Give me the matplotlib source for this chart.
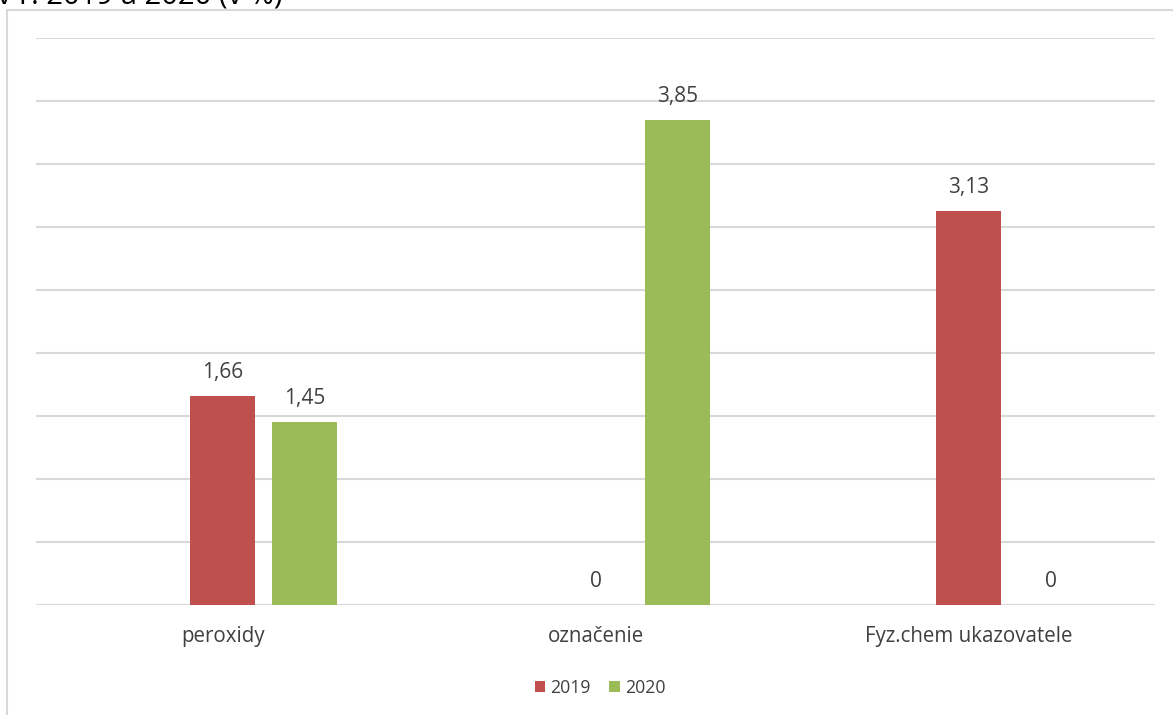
import matplotlib.pyplot as plt
from matplotlib.patches import Rectangle
import numpy as np

# данные графика
categories = ['peroxidy', 'označenie', 'Fyz.chem ukazovatele']
years = ['2019', '2020']
values_2019 = [1.66, 0, 3.13]
values_2020 = [1.45, 3.85, 0]
labels_2019 = ['1,66', '0', '3,13']
labels_2020 = ['1,45', '3,85', '0']
title_text = 'v r. 2019 a 2020 (v %)'

red = '#C0504D'
green = '#9BBB59'
text_color = '#404040'

plt.rcParams['font.family'] = ['Open Sans', 'DejaVu Sans']

fig = plt.figure(figsize=(11.73, 7.15), dpi=100)
W, H = 1173, 715

# рамка области диаграммы (обрезана справа и снизу)
fig.patches.append(Rectangle((7 / W, -0.1), 1.2, 1 - 10 / H + 0.1,
                             transform=fig.transFigure, fill=False,
                             edgecolor='#D9D9D9', linewidth=1.5))

# обрезанный заголовок сверху
fig.text(-3 / W, 1 - 4 / H, title_text, fontsize=21, color='#000000',
         ha='left', va='baseline')

ax = fig.add_axes([36 / W, 1 - 605 / H, (1155 - 36) / W, (605 - 38) / H])

x = np.arange(len(categories))
w = 0.174
off = 0.11
b1 = ax.bar(x - off, values_2019, w, color=red, label=years[0], zorder=3)
b2 = ax.bar(x + off, values_2020, w, color=green, label=years[1], zorder=3)

for bars, labs in ((b1, labels_2019), (b2, labels_2020)):
    for rect, lab in zip(bars, labs):
        ax.annotate(lab, (rect.get_x() + rect.get_width() / 2, rect.get_height()),
                    xytext=(0, 17), textcoords='offset points', ha='center',
                    va='center', fontsize=15, color=text_color)

ax.set_ylim(0, 4.5)
ax.set_yticks(np.arange(0, 4.51, 0.5))
ax.set_xlim(-0.611, 2.389)
ax.grid(axis='y', color='#D9D9D9', linewidth=1.5, zorder=0)
ax.set_yticklabels([])
ax.tick_params(axis='y', length=0)
ax.set_xticks(x)
ax.set_xticklabels([])
ax.tick_params(axis='x', length=0)

# подписи категорий (в оригинале немного сдвинуты влево)
for i, name in enumerate(categories):
    ax.annotate(name, (i - 0.11, 0), xytext=(0, -23),
                textcoords='offset points', ha='center', va='center',
                fontsize=14.8, color=text_color, annotation_clip=False)

for s in ax.spines.values():
    s.set_visible(False)
ax.axhline(0, color='#D9D9D9', linewidth=1.5, zorder=2)

fig.legend(handles=[b1, b2], labels=years, loc='center',
           bbox_to_anchor=(600 / W, 1 - 688 / H), ncol=2, frameon=False,
           fontsize=12.8, handlelength=0.6, handleheight=0.6, handletextpad=0.3,
           columnspacing=1.0, labelcolor=text_color)

plt.savefig('out.png', dpi=100)
